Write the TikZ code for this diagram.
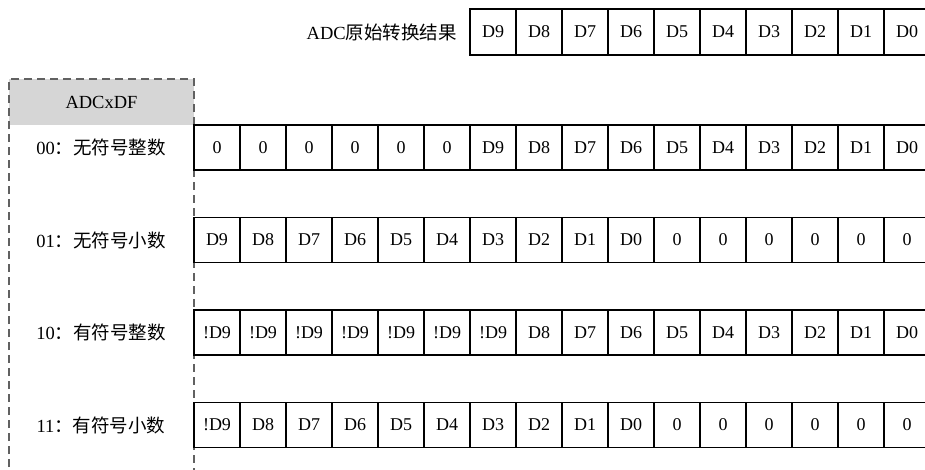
\documentclass[tikz,border=0pt]{standalone}
\usepackage{fontspec}
\setmainfont{Liberation Serif}
\newfontfamily\cjk{Noto Sans CJK SC}
\begin{document}
\begin{tikzpicture}[x=1pt,y=-1pt,
  cell/.style={draw=black,line width=1.6pt,minimum width=46pt,minimum height=45pt,inner sep=0pt,font=\fontsize{18}{20}\selectfont},
  topcell/.style={cell,minimum height=46pt},
  lbl/.style={font=\fontsize{18.5}{20}\selectfont,inner sep=0pt},
  hdrfill/.style={fill=black!16},
  panel/.style={draw=black!62,dash pattern=on 8pt off 5pt,line width=1.5pt}]
\useasboundingbox (0,0) rectangle (925,469);
\clip (0,0) rectangle (925,469);
% left panel
\fill[hdrfill] (9,79) rectangle (194,125);
\node[lbl] (hdr) at (101.5,102) {ADCxDF};
\draw[panel] (9,480) -- (9,79) -- (194,79) -- (194,480);
% top row
\node[lbl,anchor=east] (raw) at (457,32) {ADC{\cjk 原始转换结果}};
\foreach \t [count=\i from 0] in {D9,D8,D7,D6,D5,D4,D3,D2,D1,D0}
  \node[topcell] (t\i) at (493+46*\i,32) {\t};
% row labels
\node[lbl] (l0) at (101,147.5) {00{\cjk ：无符号整数}};
\node[lbl] (l1) at (101,240) {01{\cjk ：无符号小数}};
\node[lbl] (l2) at (101,332.5) {10{\cjk ：有符号整数}};
\node[lbl] (l3) at (101,425) {11{\cjk ：有符号小数}};
% rows
\foreach \t [count=\i from 0] in {0,0,0,0,0,0,D9,D8,D7,D6,D5,D4,D3,D2,D1,D0}
  \node[cell] (a\i) at (217+46*\i,147.5) {\t};
\foreach \t [count=\i from 0] in {D9,D8,D7,D6,D5,D4,D3,D2,D1,D0,0,0,0,0,0,0}
  \node[cell] (b\i) at (217+46*\i,240) {\t};
\foreach \t [count=\i from 0] in {!D9,!D9,!D9,!D9,!D9,!D9,!D9,D8,D7,D6,D5,D4,D3,D2,D1,D0}
  \node[cell] (c\i) at (217+46*\i,332.5) {\t};
\foreach \t [count=\i from 0] in {!D9,D8,D7,D6,D5,D4,D3,D2,D1,D0,0,0,0,0,0,0}
  \node[cell] (d\i) at (217+46*\i,425) {\t};
\end{tikzpicture}
\end{document}
